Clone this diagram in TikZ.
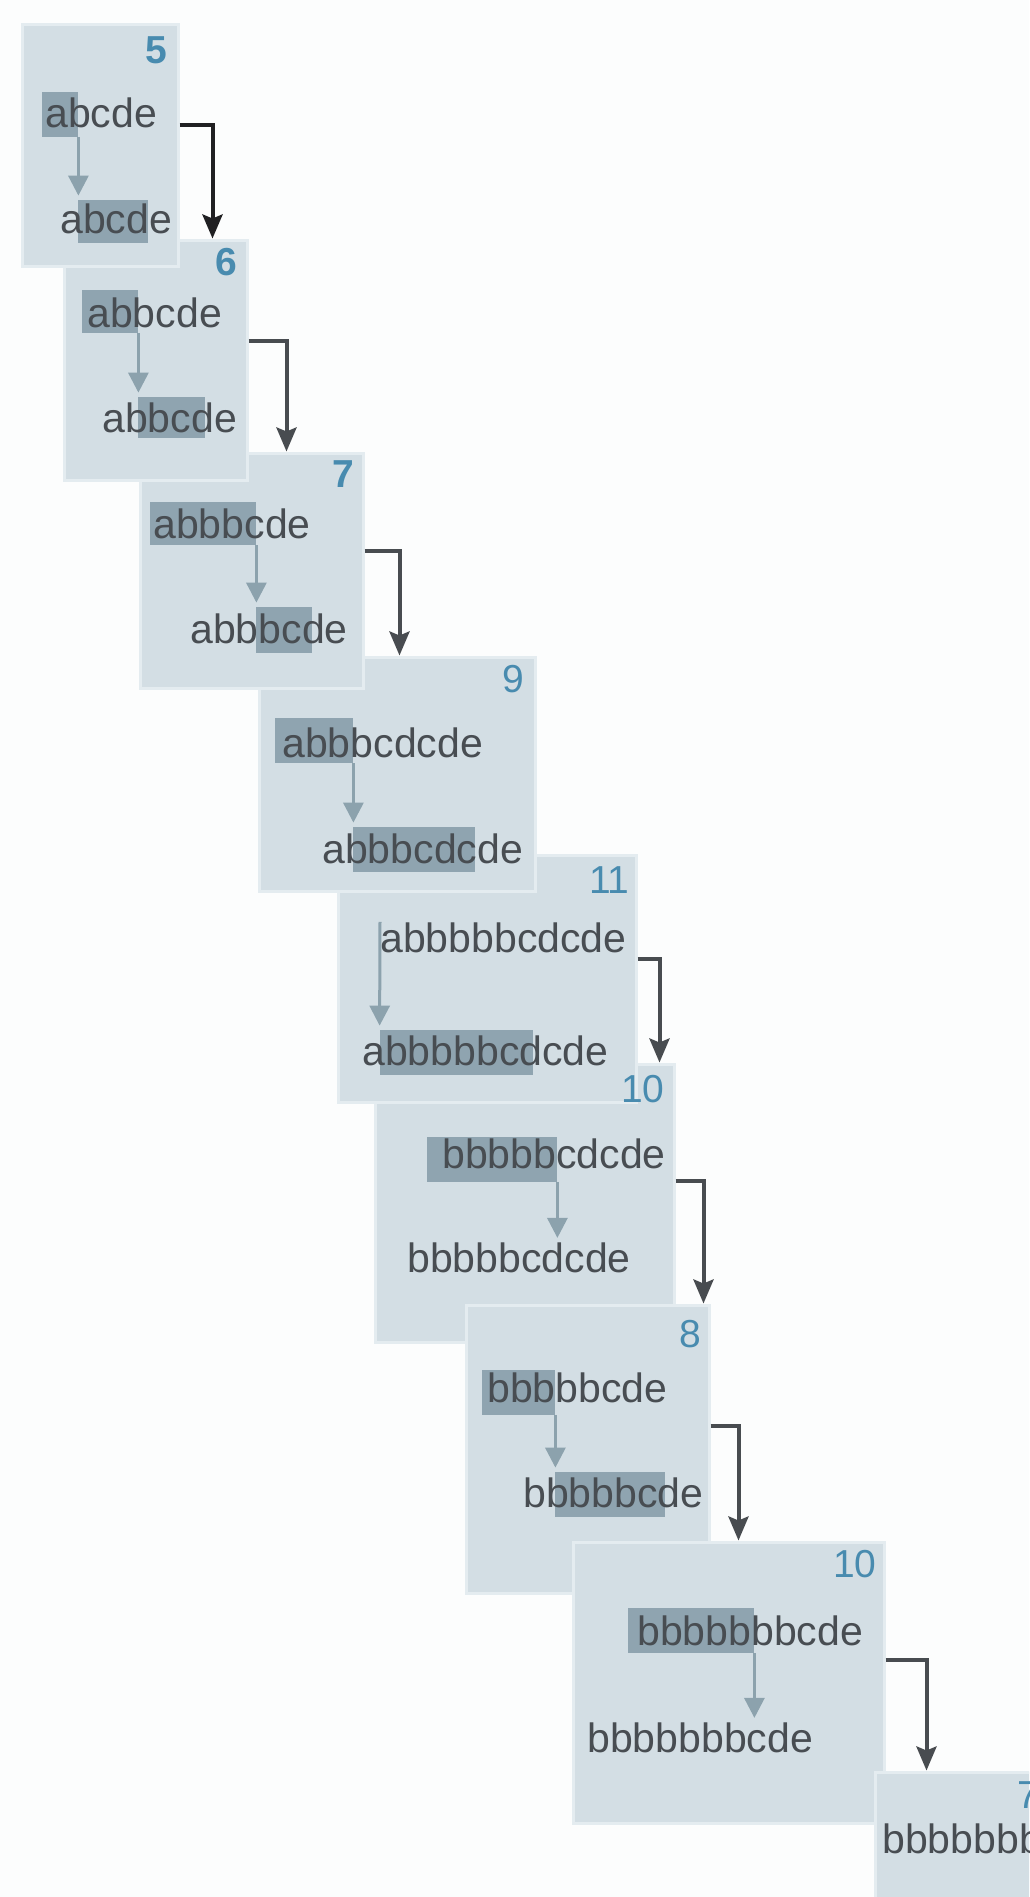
\documentclass[tikz,border=0pt]{standalone}
\usepackage{fontspec}
\setmainfont{Liberation Sans}
\usepackage{xcolor}
\usepackage{tikz}
\usetikzlibrary{arrows.meta, fit, calc}
\definecolor{pagebg}{RGB}{252,253,253}
\definecolor{cardbg}{RGB}{211,222,228}
\definecolor{cardedge}{RGB}{228,236,240}
\definecolor{hlbg}{RGB}{143,164,176}
\definecolor{inktext}{RGB}{72,77,82}
\definecolor{countblue}{RGB}{72,139,175}
\definecolor{copygrey}{RGB}{140,162,173}
\definecolor{flowgrey}{RGB}{72,76,80}
\definecolor{flowdark}{RGB}{32,32,34}

\tikzset{
	card/.style={draw=cardedge, fill=cardbg, line width=1.5pt, inner sep=0pt},
	hilite/.style={fill=hlbg, inner sep=0pt},
	word/.style={anchor=base west, inner sep=0pt, text=inktext, font=\fontsize{20.5}{24}\selectfont},
	count/.style={anchor=base east, inner sep=0pt, text=countblue, font=\fontsize{19.5}{24}\selectfont},
	countbold/.style={count, font=\fontsize{19.5}{24}\selectfont\bfseries},
	copyarrow/.style={draw=copygrey, line width=1.5pt, -{Triangle[width=10pt,length=10pt]}, shorten >=2pt},
	flowarrow/.style={line width=2pt, -{Stealth[width=10pt,length=12pt,inset=2pt]}}
}

\begin{document}
\begin{tikzpicture}[x=0.5pt, y=-0.5pt]
	\useasboundingbox (0,0) rectangle (1029,1897);
	\fill[pagebg] (0,0) rectangle (1029,1897);
	\clip (0,0) rectangle (1029,1897);

	% 10 (first)
	\node[card, fit={(375,1064) (674,1342)}] (c10a) {};
	\node[hilite, fit={(427,1137) (557,1182)}] (h10at) {};
	\node[word] (t10at) at (442,1168) {bbbbbcdcde};
	\node[word] (t10ab) at (407,1272) {bbbbbcdcde};
	\draw[copyarrow] (h10at.south east) -- (h10at.south east |- t10ab.north);

	% 11
	\node[card, fit={(338,855) (636,1102)}] (c11) {};
	\node[hilite, fit={(380,1030) (533,1075)}] (h11b) {};
	\node[word] (t11t) at (380,952) {abbbbbcdcde};
	\node[word] (t11b) at (362,1065) {abbbbbcdcde};
	\draw[copyarrow] (t11t.north west) -- (h11b.north west);

	% 9
	\node[card, fit={(259,657) (535,891)}] (c9) {};
	\node[hilite, fit={(275,718) (353,763)}] (h9t) {};
	\node[hilite, fit={(353,827) (475,872)}] (h9b) {};
	\node[word] (t9t) at (282,757) {abbbcdcde};
	\node[word] (t9b) at (322,863) {abbbcdcde};
	\draw[copyarrow] (h9t.south east) -- (h9t.south east |- h9b.north);

	% 7
	\node[card, fit={(140,453) (363,688)}] (c7) {};
	\node[hilite, fit={(150,502) (256,545)}] (h7t) {};
	\node[hilite, fit={(256,607) (312,653)}] (h7b) {};
	\node[word] (t7t) at (153,538) {abbbcde};
	\node[word] (t7b) at (190,643) {abbbcde};
	\draw[copyarrow] (h7t.south east) -- (h7t.south east |- h7b.north);

	% 6
	\node[card, fit={(64,240) (247,480)}] (c6) {};
	\node[hilite, fit={(82,290) (138,333)}] (h6t) {};
	\node[hilite, fit={(138,397) (205,438)}] (h6b) {};
	\node[word] (t6t) at (87,327) {abbcde};
	\node[word] (t6b) at (102,432) {abbcde};
	\draw[copyarrow] (h6t.south east) -- (h6t.south east |- h6b.north);

	% 5
	\node[card, fit={(22,24) (178,266)}] (c5) {};
	\node[hilite, fit={(42,92) (78,137)}] (h5t) {};
	\node[hilite, fit={(78,200) (148,243)}] (h5b) {};
	\node[word] (t5t) at (45,127) {abcde};
	\node[word] (t5b) at (60,233) {abcde};
	\draw[copyarrow] (h5t.south east) -- (h5t.south east |- h5b.north);

	% 8
	\node[card, fit={(466,1305) (709,1593)}] (c8) {};
	\node[hilite, fit={(482,1370) (555,1415)}] (h8t) {};
	\node[hilite, fit={(555,1472) (665,1517)}] (h8b) {};
	\node[word] (t8t) at (487,1402) {bbbbbcde};
	\node[word] (t8b) at (523,1507) {bbbbbcde};
	\draw[copyarrow] (h8t.south east) -- (h8t.south east |- h8b.north);

	% 10 (second)
	\node[card, fit={(573,1542) (884,1823)}] (c10b) {};
	\node[hilite, fit={(628,1608) (754,1653)}] (h10bt) {};
	\node[word] (t10bt) at (637,1645) {bbbbbbbcde};
	\node[word] (t10bb) at (587,1752) {bbbbbbbcde};
	\draw[copyarrow] (h10bt.south east) -- (h10bt.south east |- t10bb.north);

	% 7 (last)
	\node[card, fit={(875,1772) (1100,1960)}] (c7b) {};
	\node[word] (t7bt) at (882,1853) {bbbbbbb};

	\foreach \src/\dst/\stub/\ink in {c5/c6/33/flowdark, c6/c7/38/flowgrey, c7/c9/35/flowgrey, c11/c10a/22/flowgrey, c10a/c8/28/flowgrey, c8/c10b/28/flowgrey, c10b/c7b/41/flowgrey}
		\draw[flowarrow, draw=\ink] ($(\src.north east)!0.42!(\src.south east)$) -- ++(\stub,0) coordinate (bend) -- (bend |- \dst.north);

	\node[countbold] (n5) at (168,63) {5};
	\node[countbold] (n6) at (238,275) {6};
	\node[countbold] (n7) at (355,487) {7};
	\node[count] (n9) at (525,692) {9};
	\node[count] (n11) at (630,893) {11};
	\node[count] (n10a) at (665,1102) {10};
	\node[count] (n8) at (702,1347) {8};
	\node[count] (n10b) at (877,1577) {10};
	\node[count] (n7b) at (1040,1808) {7};
\end{tikzpicture}
\end{document}
